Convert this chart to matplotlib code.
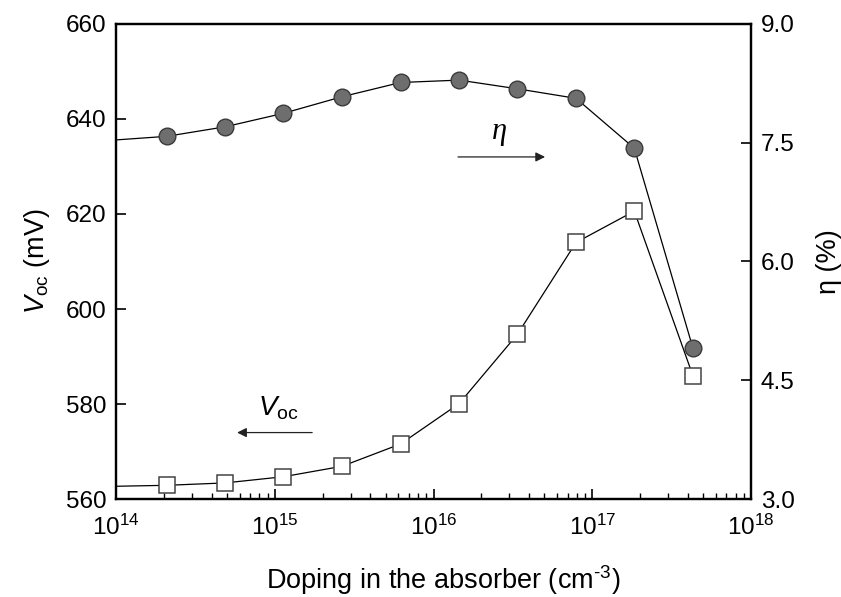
import numpy as np
import matplotlib
matplotlib.use("Agg")
import matplotlib.pyplot as plt
from matplotlib.ticker import LogLocator, FixedLocator, FormatStrFormatter

plt.rcParams['font.family'] = ['Liberation Sans', 'DejaVu Sans']
plt.rcParams['mathtext.fontset'] = 'custom'
plt.rcParams['mathtext.rm'] = 'Liberation Sans'
plt.rcParams['mathtext.it'] = 'Liberation Sans:italic'

# doping levels in the absorber (cm^-3)
doping = [2.08e14, 4.85e14, 1.13e15, 2.65e15, 6.2e15, 1.45e16, 3.38e16, 7.9e16, 1.84e17, 4.3e17]
voc_mv = [562.9, 563.4, 564.7, 566.9, 571.6, 580.1, 594.7, 614.0, 620.6, 586.0]
eff_pct = [7.58, 7.70, 7.87, 8.08, 8.26, 8.29, 8.18, 8.06, 7.43, 4.91]

# curve start at the left edge of the plot
x_start = 1e14
voc_start = 562.7
eff_start = 7.535

fig = plt.figure(figsize=(8.41, 5.97), dpi=100)
ax = fig.add_axes([0.138, 0.164, 0.755, 0.796])
ax2 = ax.twinx()

xv = [x_start] + doping
ax.plot(xv, [voc_start] + voc_mv, color='black', lw=0.9, zorder=2)
ax.plot(doping, voc_mv, ls='none', marker='s', ms=11, mfc='white', mec='#444444', mew=1.1, zorder=3)
ax2.plot(xv, [eff_start] + eff_pct, color='black', lw=0.9, zorder=2)
ax2.plot(doping, eff_pct, ls='none', marker='o', ms=12, mfc='#6e6e6e', mec='#3a3a3a', mew=1.0, zorder=3)

ax.set_xscale('log')
ax.set_xlim(1e14, 1e18)
ax.set_ylim(560, 660)
ax2.set_ylim(3.0, 9.0)

ax.xaxis.set_major_locator(LogLocator(base=10, numticks=10))
ax.xaxis.set_minor_locator(LogLocator(base=10, subs=np.arange(2, 10), numticks=10))
ax.yaxis.set_major_locator(FixedLocator([560, 580, 600, 620, 640, 660]))
ax2.yaxis.set_major_locator(FixedLocator([3.0, 4.5, 6.0, 7.5, 9.0]))
ax2.yaxis.set_major_formatter(FormatStrFormatter('%.1f'))

for a in (ax, ax2):
    for s in a.spines.values():
        s.set_linewidth(1.6)
ax.tick_params(axis='both', which='major', direction='in', length=7, width=1.2, labelsize=17.5, pad=7, top=False)
ax.tick_params(axis='x', which='major', pad=11)
ax.tick_params(axis='x', which='minor', direction='in', length=4, width=1.0, top=False)
ax.tick_params(axis='y', which='minor', left=False)
ax2.tick_params(axis='y', which='major', direction='in', length=7, width=1.2, labelsize=17.5, pad=7)
ax2.tick_params(axis='y', which='minor', right=False)

ax.set_xlabel('Doping in the absorber (cm$^{\\text{-3}}$)', fontsize=19.5)
ax.xaxis.set_label_coords(0.515, -0.135)
ax.set_ylabel('$V_{\\mathrm{oc}}$ (mV)', fontsize=19.5, labelpad=10)
ax2.set_ylabel('η (%)', fontsize=19.5, rotation=90)
ax2.yaxis.set_label_coords(1.102, 0.5)

# arrows pointing each curve to its axis
ax.text(2.59e16, 637.3, 'η', fontsize=22, ha='center', va='center',
        family='Liberation Serif', style='italic')
ax.annotate('', xy=(5.25e16, 632.0), xytext=(1.37e16, 632.0),
            arrowprops=dict(arrowstyle='-|>', color='#222222', lw=0.9, mutation_scale=14))
ax.text(1.05e15, 579.2, '$V_{\\mathrm{oc}}$', fontsize=20, ha='center', va='center')
ax.annotate('', xy=(5.56e14, 574.0), xytext=(1.79e15, 574.0),
            arrowprops=dict(arrowstyle='-|>', color='#222222', lw=0.9, mutation_scale=14))

fig.savefig('out.png', dpi=100)
